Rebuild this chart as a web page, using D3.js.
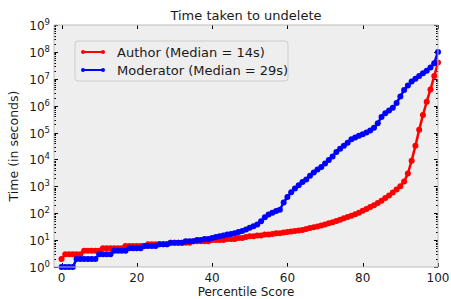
<!DOCTYPE html>
<html>
<head>
<meta charset="utf-8">
<script src="https://cdn.jsdelivr.net/npm/d3@7"></script>
<style>
  body { margin: 0; background: #fff; }
  svg { font-family: "DejaVu Sans", sans-serif; }
</style>
</head>
<body>
<svg width="451" height="299"></svg>
<script>
// percentile scores (x) shared by both series
var percentiles = d3.range(0, 101);

// time to undelete, seconds at each percentile
var authorSeconds = [
  2, 3, 3, 3, 3, 3, 4, 4, 4, 4,
  4, 5, 5, 5, 5, 5, 5, 6, 6, 6,
  6, 6, 6, 7, 7, 7, 7, 7, 7, 8,
  8, 8, 8, 8, 8, 9, 9, 9, 9, 9,
  10, 10, 10, 10, 11, 11, 11, 12, 12, 13,
  14, 14, 15, 15, 16, 16, 17, 18, 18, 19,
  20, 21, 22, 23, 24, 26, 28, 30, 32, 35,
  38, 42, 46, 51, 57, 65, 72, 81, 91, 105,
  123, 145, 170, 200, 240, 290, 365, 460, 590, 760,
  1000, 1500, 3000, 9000, 3.2e4, 1.26e5, 4.5e5, 1.4e6, 4e6, 1.26e7,
  4e7
];

var moderatorSeconds = [
  1, 1, 1, 1, 2, 2, 2, 2, 2, 2,
  3, 3, 3, 3, 4, 4, 4, 4, 5, 5,
  5, 5, 6, 6, 6, 6, 7, 7, 7, 8,
  8, 8, 8, 9, 9, 9, 10, 10, 11, 11,
  12, 13, 14, 15, 16, 17, 18, 20, 22, 25,
  29, 33, 38, 50, 71, 89, 105, 120, 135, 250,
  400, 600, 830, 1100, 1450, 1800, 2500, 3300, 4200, 5200,
  7100, 9500, 1.3e4, 1.9e4, 2.5e4, 3.2e4, 4.2e4, 5.6e4, 6.6e4, 7.6e4,
  8.7e4, 1.0e5, 1.2e5, 1.5e5, 2.2e5, 3.8e5, 5.2e5, 6.6e5, 8.3e5, 1.26e6,
  2.2e6, 3.8e6, 5.6e6, 7.9e6, 1.0e7, 1.26e7, 1.6e7, 2.0e7, 2.6e7, 3.8e7,
  1.0e8
];

var seriesNames = ["Author (Median = 14s)", "Moderator (Median = 29s)"];
var seriesColors = ["#ff0000", "#0000ff"];
var xTicks = [0, 20, 40, 60, 80, 100];
var yExponents = d3.range(0, 10);

var svg = d3.select("svg"),
    margin = {top: 25, right: 13, bottom: 32, left: 54},
    width = +svg.attr("width") - margin.left - margin.right,
    height = +svg.attr("height") - margin.top - margin.bottom,
    g = svg.append("g").attr("transform", "translate(" + margin.left + "," + margin.top + ")");

var x = d3.scaleLinear().domain([-2, 100]).range([0, width]);
var y = d3.scaleLog().domain([1, 1e9]).range([height, 0]);

// grey plot background
g.append("rect")
    .attr("width", width)
    .attr("height", height)
    .attr("fill", "#eeeeee");

// inside ticks on all four sides
var tickG = g.append("g").attr("stroke", "#000").attr("stroke-width", 1);
xTicks.forEach(function(t) {
  var px = Math.round(x(t)) + 0.5;
  tickG.append("line").attr("x1", px).attr("x2", px).attr("y1", height).attr("y2", height - 4);
  tickG.append("line").attr("x1", px).attr("x2", px).attr("y1", 0).attr("y2", 4);
});
yExponents.forEach(function(e) {
  var py = Math.round(y(Math.pow(10, e))) + 0.5;
  tickG.append("line").attr("x1", 0).attr("x2", 4).attr("y1", py).attr("y2", py);
  tickG.append("line").attr("x1", width).attr("x2", width - 4).attr("y1", py).attr("y2", py);
  if (e < 9) {
    for (var m = 2; m < 10; m++) {
      var my = Math.round(y(m * Math.pow(10, e))) + 0.5;
      tickG.append("line").attr("x1", 0).attr("x2", 2).attr("y1", my).attr("y2", my);
      tickG.append("line").attr("x1", width).attr("x2", width - 2).attr("y1", my).attr("y2", my);
    }
  }
});

// the two curves
var line = d3.line()
    .x(function(d) { return x(d[0]); })
    .y(function(d) { return y(d[1]); });

[authorSeconds, moderatorSeconds].forEach(function(vals, i) {
  var data = percentiles.map(function(p, j) { return [p, vals[j]]; });
  g.append("path")
      .datum(data)
      .attr("fill", "none")
      .attr("stroke", seriesColors[i])
      .attr("stroke-width", 2.5)
      .attr("stroke-linejoin", "round")
      .attr("d", line);
  g.append("g").selectAll("circle")
      .data(data)
    .enter().append("circle")
      .attr("cx", function(d) { return x(d[0]); })
      .attr("cy", function(d) { return y(d[1]); })
      .attr("r", 3)
      .attr("fill", seriesColors[i]);
});

// frame
g.append("rect")
    .attr("width", width)
    .attr("height", height)
    .attr("fill", "none")
    .attr("stroke", "#bbbbbb")
    .attr("stroke-width", 1);

// tick labels
g.append("g").selectAll("text")
    .data(xTicks)
  .enter().append("text")
    .attr("x", function(d) { return x(d); })
    .attr("y", height + 15)
    .attr("text-anchor", "middle")
    .attr("font-size", 12)
    .attr("fill", "#1a1a1a")
    .text(function(d) { return d; });

var yl = g.append("g").selectAll("text")
    .data(yExponents)
  .enter().append("text")
    .attr("x", -4)
    .attr("y", function(d) { return y(Math.pow(10, d)) + 5; })
    .attr("text-anchor", "end")
    .attr("font-size", 12)
    .attr("fill", "#1a1a1a");
yl.append("tspan").text("10");
yl.append("tspan")
    .attr("font-size", 8.5)
    .attr("dy", -5)
    .text(function(d) { return d; });

// axis titles
svg.append("text")
    .attr("x", margin.left + width / 2)
    .attr("y", 20)
    .attr("text-anchor", "middle")
    .attr("font-size", 13)
    .attr("fill", "#1a1a1a")
    .text("Time taken to undelete");

svg.append("text")
    .attr("x", margin.left + width / 2)
    .attr("y", 296)
    .attr("text-anchor", "middle")
    .attr("font-size", 12)
    .attr("fill", "#1a1a1a")
    .text("Percentile Score");

svg.append("text")
    .attr("transform", "translate(18," + (margin.top + height / 2) + ") rotate(-90)")
    .attr("text-anchor", "middle")
    .attr("font-size", 12.5)
    .attr("fill", "#1a1a1a")
    .text("Time (in seconds)");

// legend
var lg = svg.append("g").attr("transform", "translate(75,41)");
lg.append("rect")
    .attr("width", 213)
    .attr("height", 40)
    .attr("rx", 3)
    .attr("fill", "#eeeeee")
    .attr("stroke", "#cccccc");
seriesNames.forEach(function(name, i) {
  var ly = 11 + i * 18;
  lg.append("line")
      .attr("x1", 8).attr("x2", 28)
      .attr("y1", ly).attr("y2", ly)
      .attr("stroke", seriesColors[i])
      .attr("stroke-width", 2);
  [8, 28].forEach(function(cx) {
    lg.append("circle").attr("cx", cx).attr("cy", ly).attr("r", 2).attr("fill", seriesColors[i]);
  });
  lg.append("text")
      .attr("x", 42)
      .attr("y", ly + 5)
      .attr("font-size", 13)
      .attr("fill", "#1a1a1a")
      .text(name);
});
</script>
</body>
</html>
